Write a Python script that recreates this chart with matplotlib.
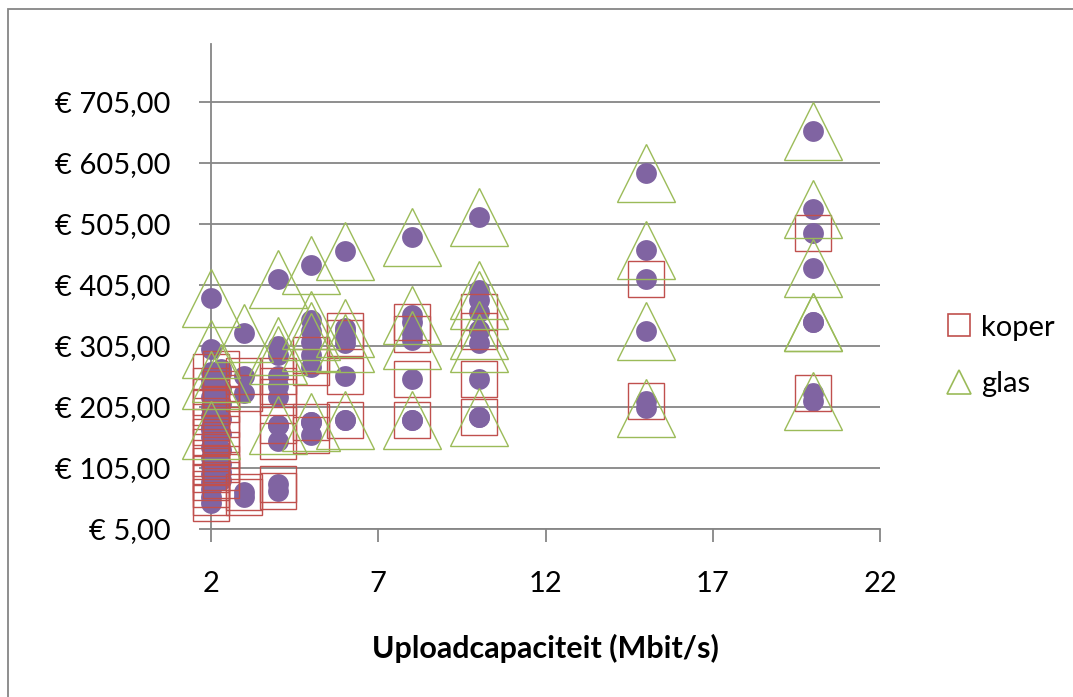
import matplotlib
matplotlib.use("Agg")
import matplotlib.pyplot as plt
from matplotlib.lines import Line2D
from matplotlib.patches import Rectangle
from matplotlib.ticker import FuncFormatter

# Gegevens: uploadcapaciteit (Mbit/s) en prijs (EUR)
koper_x = [2] * 15 + [2.3] * 9 + [3] * 4 + [4] * 7 + [5] * 4 + [6] * 4 + [8] * 4 + [10] * 4 + [15] * 2 + [20] * 2
koper_y = [262, 240, 222, 205, 190, 172, 155, 140, 122, 108, 95, 82, 70, 58, 48,
           268, 235, 210, 185, 160, 135, 112, 98, 86,
           255, 228, 65, 58,
           255, 240, 222, 175, 150, 78, 68,
           290, 271, 181, 159,
           330, 318, 255, 183,
           345, 325, 251, 184,
           360, 330, 251, 189,
           415, 215,
           490, 228]

glas_x = [2] * 4 + [2.3] + [3] + [4] * 4 + [5] * 5 + [6] * 4 + [8] * 4 + [10] * 6 + [15] * 4 + [20] * 6
glas_y = [383, 300, 250, 167,
          260,
          326,
          415, 305, 290, 175,
          438, 348, 330, 312, 181,
          461, 335, 310, 183,
          484, 356, 315, 184,
          517, 397, 380, 331, 310, 189,
          588, 462, 330, 203,
          658, 530, 433, 345, 345, 214]

x_ticks = [2, 7, 12, 17, 22]
y_ticks = [5, 105, 205, 305, 405, 505, 605, 705]

paars = '#8064A2'
rood = '#C0504D'
groen = '#9BBB59'
grijs = '#868686'

plt.rcParams['font.family'] = ['Lato', 'DejaVu Sans']

W, H = 1073, 697
fig = plt.figure(figsize=(W / 100, H / 100), dpi=100)
ax = fig.add_axes([211 / W, 1 - 529 / H, (880 - 211) / W, (529 - 44) / H])

# rand om de hele grafiek
fig.patches.append(Rectangle((8 / W, -0.05), 1.1, 1 - 9 / H + 0.05, transform=fig.transFigure,
                             fill=False, edgecolor=grijs, linewidth=1.3))

# paarse punten voor alle aanbiedingen
ax.plot(koper_x + glas_x, koper_y + glas_y, 'o', color=paars, markersize=15,
        markeredgewidth=0, zorder=3, clip_on=False)
ax.plot(koper_x, koper_y, 's', markersize=26.5, markerfacecolor='none',
        markeredgecolor=rood, markeredgewidth=1.0, zorder=4, clip_on=False)
ax.plot(glas_x, glas_y, '^', markersize=42, markerfacecolor='none',
        markeredgecolor=groen, markeredgewidth=1.0, zorder=4, clip_on=False)

ax.set_xlim(2, 22)
ax.set_ylim(5, 800)
ax.set_xticks(x_ticks)
ax.set_yticks(y_ticks)
ax.yaxis.set_major_formatter(FuncFormatter(lambda v, p: '€ ' + f'{v:.2f}'.replace('.', ',')))

ax.grid(axis='y', color=grijs, linewidth=1.3)
ax.set_axisbelow(True)
for s in ['top', 'right']:
    ax.spines[s].set_visible(False)
for s in ['left', 'bottom']:
    ax.spines[s].set_color(grijs)
    ax.spines[s].set_linewidth(1.3)
ax.tick_params(axis='both', direction='out', length=9, width=1.3, color=grijs,
               labelsize=21, labelcolor='black')
ax.tick_params(axis='y', pad=20)
ax.tick_params(axis='x', pad=21)

ax.set_xlabel('Uploadcapaciteit (Mbit/s)', fontsize=22, fontweight='bold', labelpad=27)

handles = [
    Line2D([], [], marker='s', linestyle='none', markersize=16, markerfacecolor='none',
           markeredgecolor=rood, markeredgewidth=1.2),
    Line2D([], [], marker='^', linestyle='none', markersize=17, markerfacecolor='none',
           markeredgecolor=groen, markeredgewidth=1.2),
]
fig.legend(handles, ['koper', 'glas'], loc='center left',
           bbox_to_anchor=(918 / W, 1 - 356 / H), frameon=False, fontsize=21,
           handlelength=1.0, handletextpad=0.25, labelspacing=1.05)

fig.savefig('out.png', dpi=100)
